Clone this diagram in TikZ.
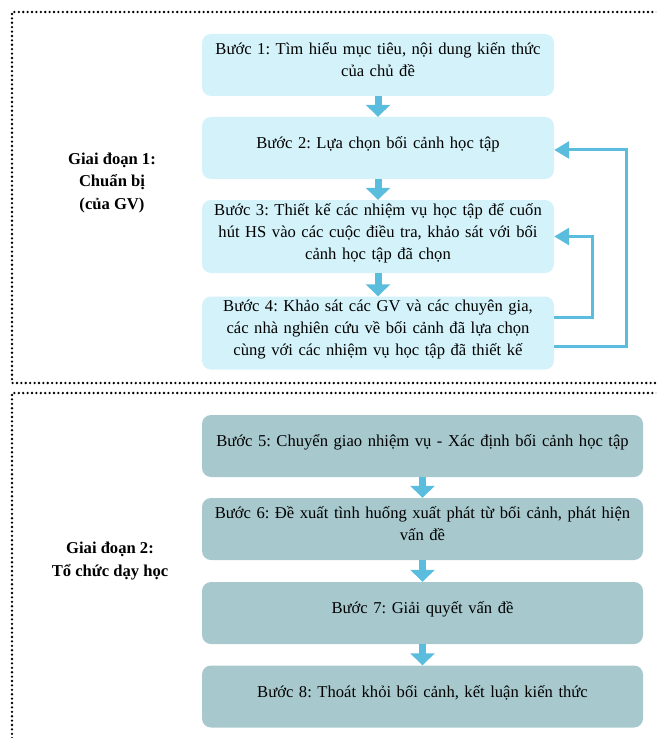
\documentclass[tikz,border=0pt]{standalone}
\usepackage{fontspec}
\setmainfont{Liberation Serif}
\usetikzlibrary{arrows.meta}

\definecolor{prepfill}{RGB}{212,242,250}
\definecolor{teachfill}{RGB}{167,201,206}
\definecolor{flowblue}{RGB}{91,189,221}

\tikzset{
    stepbox/.style={rounded corners=9pt, minimum height=62pt, inner xsep=4pt, inner ysep=0pt,
        align=center, font=\fontsize{16.6}{22}\selectfont,
        execute at begin node={\rule{0pt}{15pt}},
        execute at end node={\rule[-14pt]{0pt}{0pt}}},
    prepbox/.style={stepbox, fill=prepfill, text width=344pt},
    teachbox/.style={stepbox, fill=teachfill, text width=433pt},
    phase/.style={align=center, font=\fontsize{16.6}{22.5}\selectfont\bfseries},
    dotframe/.style={line width=2.6pt, line cap=round, dash pattern=on 0pt off 4.4pt},
    down/.style={flowblue, line width=7pt, -{Triangle[width=24pt,length=12pt]}},
    back/.style={flowblue, line width=3pt, -{Triangle[width=17pt,length=15pt]}}
}

\begin{document}
\frenchspacing
\begin{tikzpicture}[x=1pt, y=-1pt]
    \useasboundingbox (0,0) rectangle (656,738);
    \clip (0,0) rectangle (656,738);

    % frames of the two stages
    \draw[dotframe] (670,12) -- (12,12) -- (12,383) -- (670,383);
    \draw[dotframe] (670,393) -- (12,393) -- (12,750);

    \node[phase] (gd1) at (112,183) {Giai đoạn 1:\\Chuẩn bị\\(của GV)};
    \node[phase] (gd2) at (110,561) {Giai đoạn 2:\\Tổ chức dạy học};

    % stage 1
    \node[prepbox] (b1) at (378,65) {Bước 1: Tìm hiểu mục tiêu, nội dung kiến thức\\của chủ đề};
    \node[prepbox] (b2) at (378,148) {Bước 2: Lựa chọn bối cảnh học tập};
    \node[prepbox] (b3) at (378,236.5) {Bước 3: Thiết kế các nhiệm vụ học tập để cuốn\\hút HS vào các cuộc điều tra, khảo sát với bối\\cảnh học tập đã chọn};
    \node[prepbox] (b4) at (378,333) {Bước 4: Khảo sát các GV và các chuyên gia,\\các nhà nghiên cứu về bối cảnh đã lựa chọn\\cùng với các nhiệm vụ học tập đã thiết kế};

    % stage 2
    \node[teachbox] (b5) at (422.5,446) {Bước 5: Chuyển giao nhiệm vụ - Xác định bối cảnh học tập};
    \node[teachbox] (b6) at (422.5,529) {Bước 6: Đề xuất tình huống xuất phát từ bối cảnh, phát hiện\\vấn đề};
    \node[teachbox] (b7) at (422.5,613) {Bước 7: Giải quyết vấn đề};
    \node[teachbox] (b8) at (422.5,696.5) {Bước 8: Thoát khỏi bối cảnh, kết luận kiến thức};

    \foreach \a/\b in {b1/b2, b2/b3, b3/b4, b5/b6, b6/b7, b7/b8}
        \draw[down] (\a.south) -- (\b.north);

    % feedback loops
    \draw[back] ([yshift=16pt]b4.east) -- ++(38,0) |- (b3.east);
    \draw[back] ([yshift=-13pt]b4.east) -- ++(72,0) |- ([yshift=-2pt]b2.east);
\end{tikzpicture}
\end{document}
